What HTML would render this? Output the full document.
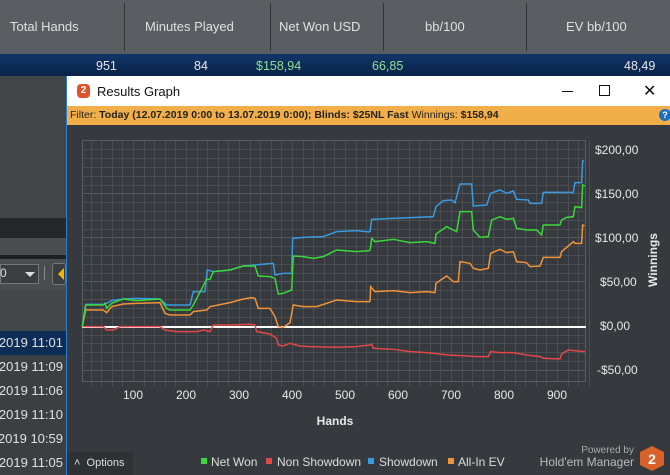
<!DOCTYPE html>
<html><head><meta charset="utf-8"><style>
*{margin:0;padding:0;box-sizing:border-box}
body{width:670px;height:475px;overflow:hidden;background:#36393d;font-family:"Liberation Sans",sans-serif;position:relative}
.a{position:absolute}
.hd{color:#e0e0e0;font-size:13px;top:19px}
.vl{color:#e8e8e8;font-size:12.5px;top:59px}
.dt{color:#e0e0e0;font-size:13px;left:0;width:63px;height:18px;overflow:hidden}
.dt span{position:absolute;right:0;top:0;white-space:nowrap}
</style></head><body>
<div class="a" style="left:0;top:0;width:670px;height:54px;background:#5a5d61"></div>
<div class="a" style="left:124px;top:3px;width:1px;height:48px;background:#333"></div>
<div class="a" style="left:270px;top:3px;width:1px;height:48px;background:#333"></div>
<div class="a" style="left:383px;top:3px;width:1px;height:48px;background:#333"></div>
<div class="a" style="left:526px;top:3px;width:1px;height:48px;background:#333"></div>
<div class="a hd" style="left:10px">Total Hands</div>
<div class="a hd" style="left:145px">Minutes Played</div>
<div class="a hd" style="left:279px">Net Won USD</div>
<div class="a hd" style="left:425px">bb/100</div>
<div class="a hd" style="left:566px">EV bb/100</div>
<div class="a" style="left:0;top:54px;width:670px;height:22px;background:linear-gradient(#12366a,#0a2248)"></div>
<div class="a vl" style="left:96px">951</div>
<div class="a vl" style="left:194px">84</div>
<div class="a vl" style="left:256px;color:#8fe08f">$158,94</div>
<div class="a vl" style="left:372px;color:#8fe08f">66,85</div>
<div class="a vl" style="left:624px">48,49</div>
<!-- left panel -->
<div class="a" style="left:0;top:76px;width:66px;height:142px;background:#424548"></div>
<div class="a" style="left:0;top:218px;width:66px;height:20px;background:#25282b"></div>
<div class="a" style="left:0;top:238px;width:66px;height:17px;background:#4a4d50"></div>
<div class="a" style="left:0;top:255px;width:66px;height:4px;background:#1e2124"></div>
<div class="a" style="left:0;top:259px;width:66px;height:31px;background:#4a4d50"></div>
<div class="a" style="left:0;top:264px;width:39px;height:20px;background:#3b3e41;border:1px solid #777"></div>
<div class="a" style="left:0;top:266px;color:#ddd;font-size:12px">0</div>
<div class="a" style="left:25px;top:272px;border-left:5px solid transparent;border-right:5px solid transparent;border-top:5px solid #ddd"></div>
<div class="a" style="left:44px;top:266px;width:1px;height:14px;background:#888"></div>
<div class="a" style="left:52px;top:263px;width:14px;height:22px;border:1px solid #777;border-radius:3px;background:#3b3e41"></div>
<div class="a" style="left:58px;top:268px;width:0;height:0;border-top:6px solid transparent;border-bottom:6px solid transparent;border-right:6px solid #f0b800"></div>
<div class="a" style="left:0;top:290px;width:66px;height:42px;background:#45484b"></div>
<div class="a" style="left:0;top:331px;width:66px;height:24px;background:#0d2d57"></div>
<div class="a" style="left:0;top:355px;width:66px;height:120px;background:#3c3f42"></div>
<div class="a dt" style="top:335px"><span>2019 11:01</span></div>
<div class="a dt" style="top:359px"><span>2019 11:09</span></div>
<div class="a dt" style="top:383px"><span>2019 11:06</span></div>
<div class="a dt" style="top:407px"><span>2019 11:10</span></div>
<div class="a dt" style="top:431px"><span>2019 10:59</span></div>
<div class="a dt" style="top:455px"><span>2019 11:05</span></div>
<!-- window -->
<div class="a" style="left:66px;top:76px;width:1px;height:399px;background:#2a7fd0"></div>
<div class="a" style="left:67px;top:76px;width:603px;height:30px;background:#fff"></div>
<div class="a" style="left:77px;top:84px;width:13px;height:14px;background:#e0522a;border-radius:4px;color:#fff;font-size:10px;font-weight:bold;text-align:center;line-height:14px">2</div>
<div class="a" style="left:97px;top:84px;font-size:13px;color:#111">Results Graph</div>
<div class="a" style="left:562px;top:91px;width:11px;height:1px;background:#111"></div>
<div class="a" style="left:599px;top:85px;width:11px;height:11px;border:1px solid #111"></div>
<div class="a" style="left:643px;top:81px;font-size:16px;color:#111">✕</div>
<div class="a" style="left:67px;top:106px;width:603px;height:19px;background:#f2ae48"></div>
<div class="a" style="left:70px;top:109px;font-size:10.5px;color:#222;white-space:nowrap">Filter: <b>Today (12.07.2019 0:00 to 13.07.2019 0:00); Blinds: $25NL Fast</b> Winnings: <b>$158,94</b></div>
<div class="a" style="left:659px;top:109px;width:12px;height:12px;border-radius:6px;background:#1f6fc0;color:#fff;font-size:9px;font-weight:bold;text-align:center;line-height:12px">?</div>
<svg class="a" style="left:0;top:0" width="670" height="475">
<g stroke="#4a4d51" stroke-width="1">
<path d="M82 149.5H586M82 158.5H586M82 167.5H586M82 176.5H586M82 185.5H586M82 202.5H586M82 211.5H586M82 220.5H586M82 229.5H586M82 246.5H586M82 255.5H586M82 264.5H586M82 273.5H586M82 290.5H586M82 299.5H586M82 308.5H586M82 317.5H586M82 335.5H586M82 343.5H586M82 352.5H586M82 361.5H586"/>
</g>
<g stroke="#55585c" stroke-width="1">
<path d="M82 193.5H586M82 237.5H586M82 281.5H586M82 370.5H586"/>
</g>
<g id="vg" stroke="#4a4d51"></g>
<rect x="82.5" y="140.5" width="503" height="241" fill="none" stroke="#5a5d61"/>
<g fill="#e8e8e8" font-size="12" font-family="Liberation Sans">
<text x="595" y="154">$200,00</text><text x="595" y="198">$150,00</text><text x="595" y="242">$100,00</text><text x="600" y="286">$50,00</text><text x="600" y="330">$0,00</text><text x="597" y="374">-$50,00</text>
<text x="133" y="399" text-anchor="middle">100</text><text x="186" y="399" text-anchor="middle">200</text><text x="239" y="399" text-anchor="middle">300</text><text x="292" y="399" text-anchor="middle">400</text><text x="345" y="399" text-anchor="middle">500</text><text x="398" y="399" text-anchor="middle">600</text><text x="451" y="399" text-anchor="middle">700</text><text x="504" y="399" text-anchor="middle">800</text><text x="557" y="399" text-anchor="middle">900</text>
<text x="335" y="425" text-anchor="middle" font-weight="bold">Hands</text>
<text transform="translate(657,260) rotate(-90)" text-anchor="middle" font-weight="bold">Winnings</text>
</g>
<line x1="82" y1="327" x2="586" y2="327" stroke="#fff" stroke-width="2"/>
<g fill="none" stroke-width="1.5">
<g transform="translate(70,130) scale(0.3333)">
<polyline vector-effect="non-scaling-stroke" stroke="#e04848" points="37,590 100,590 110,600 130,600 150,590 270,590 285,600 320,605 380,605 400,600 420,605 430,585 480,585 540,583 555,585 560,605 600,612 620,625 625,645 640,648 660,640 690,648 720,650 800,652 860,650 900,645"/>
<polyline vector-effect="non-scaling-stroke" stroke="#f0943a" points="37,590 47,540 100,540 110,548 125,530 160,522 200,520 270,518 285,550 300,555 360,555 370,545 410,540 420,530 480,518 520,507 545,503 555,505 565,535 600,535 615,560 625,590 640,592 660,578 670,525 700,530 740,530 770,520 800,510 860,515 900,515"/>
<polyline vector-effect="non-scaling-stroke" stroke="#3a9ae0" points="37,590 47,523 100,523 110,520 125,512 160,507 200,505 270,507 290,525 360,525 370,485 405,485 412,420 430,425 480,420 520,408 610,400 615,435 640,430 665,430 668,325 700,322 760,320 800,305 860,302 900,306"/>
<polyline vector-effect="non-scaling-stroke" stroke="#3ad83a" points="37,590 47,525 100,525 105,520 110,535 125,520 160,507 200,512 270,507 290,535 300,540 360,540 370,525 410,448 420,448 430,425 480,420 520,408 555,408 565,438 600,440 615,445 625,492 640,490 665,480 670,378 700,380 730,385 760,380 800,360 860,365 900,362"/>
</g>
<g transform="translate(360,130) scale(0.3333)">
<polyline vector-effect="non-scaling-stroke" stroke="#e04848" points="30,645 35,642 40,655 100,658 150,665 200,668 265,675 300,677 355,680 385,680 392,665 420,668 460,668 500,675 540,680 550,685 600,687 605,672 625,660 675,665"/>
<polyline vector-effect="non-scaling-stroke" stroke="#f0943a" points="30,515 32,470 45,485 100,482 150,488 200,485 225,488 228,460 260,438 280,455 295,455 300,395 330,400 340,415 360,420 385,415 392,370 420,358 440,368 460,365 470,395 500,398 510,410 540,408 550,382 600,382 605,365 640,335 645,340 665,340 668,285 674,287"/>
<polyline vector-effect="non-scaling-stroke" stroke="#3a9ae0" points="30,306 35,268 100,265 170,262 220,260 228,230 250,212 275,210 285,218 300,162 335,162 340,228 380,225 392,190 420,180 440,190 460,183 470,208 505,210 510,220 545,220 550,187 640,187 645,158 665,158 668,93 672,92"/>
<polyline vector-effect="non-scaling-stroke" stroke="#3ad83a" points="30,362 35,325 45,335 100,328 150,338 200,335 225,340 228,312 260,290 280,300 290,305 300,245 335,245 340,300 360,322 385,320 395,270 420,260 440,268 460,265 470,295 500,300 530,300 545,315 550,285 600,285 605,270 620,262 640,260 645,230 665,233 668,165 675,168"/>
</g>
</g>
<g fill="#ddd" font-size="12" font-family="Liberation Sans">
<rect x="201" y="458" width="6" height="6" fill="#3ad83a"/><text x="211" y="466">Net Won</text>
<rect x="266" y="458" width="6" height="6" fill="#e04848"/><text x="277" y="466">Non Showdown</text>
<rect x="368" y="458" width="6" height="6" fill="#3a9ae0"/><text x="379" y="466">Showdown</text>
<rect x="448" y="458" width="6" height="6" fill="#f0943a"/><text x="458" y="466">All-In EV</text>
<text x="634" y="453" font-size="10" fill="#aaa" text-anchor="end">Powered by</text>
<text x="634" y="466" font-size="12" fill="#bbb" text-anchor="end">Hold'em Manager</text>
<polygon points="652,446 664,452 664,465 652,471 640,465 640,452" fill="#d9622a"/>
<text x="652" y="464" font-size="14" font-weight="bold" fill="#fff" text-anchor="middle">2</text>
</g>
</svg>
<div class="a" style="left:67px;top:452px;width:66px;height:23px;background:#2f3235"></div>
<div class="a" style="left:74px;top:457px;color:#ddd;font-size:11px">˄ &nbsp;Options</div>
<script>
var g=document.getElementById('vg'),s='';
for(var h=20;h<=960;h+=20){var x=Math.round(80+0.53*h)+0.5;s+='M'+x+' 140V'+(h%100==0?381:386);}
var p=document.createElementNS('http://www.w3.org/2000/svg','path');p.setAttribute('d',s);g.appendChild(p);
</script>
</body></html>
